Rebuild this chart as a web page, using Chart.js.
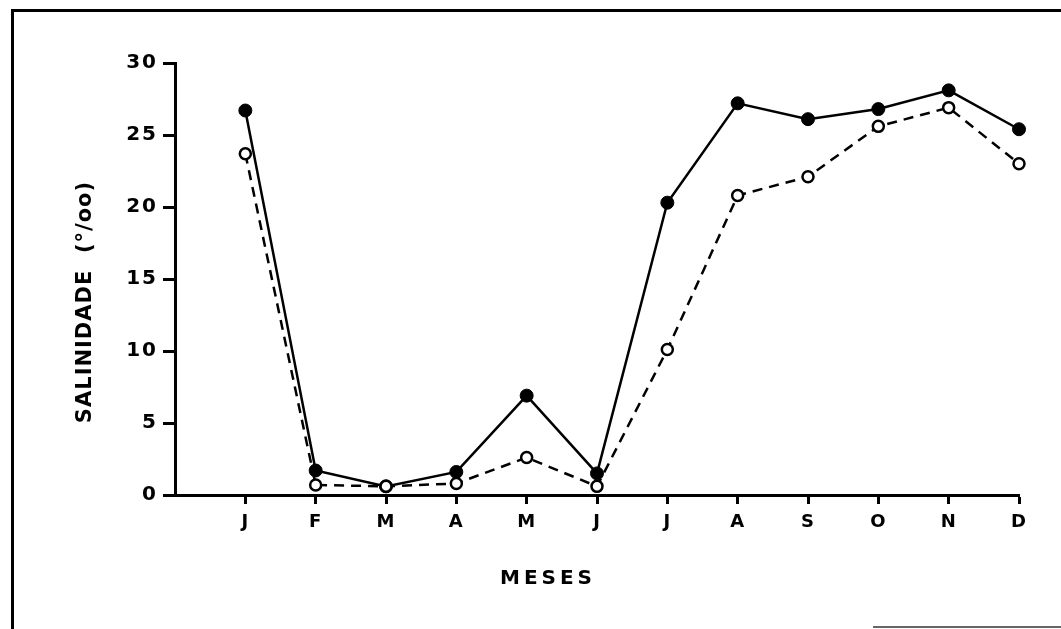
<!DOCTYPE html>
<html>
<head>
<meta charset="utf-8">
<script src="https://cdn.jsdelivr.net/npm/chart.js@4/dist/chart.umd.min.js"></script>
<style>
  html, body { margin: 0; padding: 0; background: #fff; }
  #wrap { position: relative; width: 1061px; height: 629px; overflow: hidden; background: #fff; }
  #wrap canvas { position: absolute; left: 0; top: 0; }
  .rule { position: absolute; background: #000; }
  #ruleLeft { left: 11px; top: 9px; width: 3px; height: 620px; }
  #ruleTop { left: 11px; top: 9px; width: 1050px; height: 3px; }
  #ruleBottom { left: 873px; top: 626px; width: 188px; height: 2px; background: #666; }
</style>
</head>
<body>
<div id="wrap">
  <canvas id="chart" width="1061" height="629"></canvas>
  <div class="rule" id="ruleLeft"></div>
  <div class="rule" id="ruleTop"></div>
  <div class="rule" id="ruleBottom"></div>
</div>
<script>
// Months (January .. December) and salinity (per mille) for the two stations
const months = ['J', 'F', 'M', 'A', 'M', 'J', 'J', 'A', 'S', 'O', 'N', 'D'];
const yTickValues = [0, 5, 10, 15, 20, 25, 30];
const filledSeries = [26.7, 1.7, 0.6, 1.6, 6.9, 1.5, 20.3, 27.2, 26.1, 26.8, 28.1, 25.4];
const openSeries   = [23.7, 0.7, 0.6, 0.8, 2.6, 0.6, 10.1, 20.8, 22.1, 25.6, 26.9, 23.0];
const xTitle = 'MESES';
const yTitle = 'SALINIDADE  (°/oo)';

// month n sits at x = n on a linear axis that starts one step before January
const toPoints = arr => arr.map((v, i) => ({ x: i + 1, y: v }));

// tracking (px) of the hand-lettered captions and labels, per axis
const tracking = {
  x: { title: '4px', labels: '1px' },
  y: { title: '1px', labels: '2px' }
};

const letterSpacingPlugin = {
  id: 'letterSpacing',
  beforeDraw(chart) {
    Object.values(chart.scales).forEach(s => {
      if (s._tracked) return;
      s._tracked = true;
      const t = tracking[s.id] || { title: '0px', labels: '0px' };
      const drawTitle = s.drawTitle, drawLabels = s.drawLabels;
      s.drawTitle = function () {
        const c = this.ctx; c.save(); c.letterSpacing = t.title;
        drawTitle.apply(this, arguments); c.restore();
      };
      s.drawLabels = function () {
        const c = this.ctx; c.save(); c.letterSpacing = t.labels;
        drawLabels.apply(this, arguments); c.restore();
      };
    });
  }
};

Chart.defaults.color = '#000';
Chart.defaults.font.family = '"DejaVu Sans", Verdana, sans-serif';

const EN = '\u2002';

new Chart(document.getElementById('chart'), {
  type: 'line',
  data: {
    datasets: [
      {
        data: toPoints(filledSeries),
        borderColor: '#000',
        borderWidth: 2.5,
        pointRadius: 6.5,
        pointBackgroundColor: '#000',
        pointBorderColor: '#000',
        pointBorderWidth: 1,
        tension: 0,
        clip: false,
        order: 2
      },
      {
        data: toPoints(openSeries),
        borderColor: '#000',
        borderWidth: 2.5,
        borderDash: [10, 7],
        pointRadius: 5.5,
        pointBackgroundColor: '#fff',
        pointBorderColor: '#000',
        pointBorderWidth: 2.5,
        tension: 0,
        clip: false,
        order: 1
      }
    ]
  },
  options: {
    responsive: false,
    devicePixelRatio: 1,
    animation: false,
    layout: { padding: { left: 0, right: 42, top: 63, bottom: 0 } },
    plugins: { legend: { display: false }, tooltip: { enabled: false } },
    scales: {
      x: {
        type: 'linear',
        position: 'bottom',
        min: 0,
        max: 12,
        border: { display: true, color: '#000', width: 3 },
        grid: { drawOnChartArea: false, drawTicks: true, tickLength: 9, tickWidth: 3, tickColor: '#000' },
        afterBuildTicks: s => { s.ticks = months.map((m, i) => ({ value: i + 1 })); },
        ticks: {
          autoSkip: false,
          maxRotation: 0,
          padding: 8,
          font: { size: 18, weight: 'bold' },
          callback: v => months[v - 1] || ''
        },
        title: {
          display: true,
          text: xTitle + EN.repeat(7),
          font: { size: 20, weight: 'bold' },
          padding: { top: 0, bottom: 38 }
        },
        afterFit: s => { s.height = 134; }
      },
      y: {
        min: 0,
        max: 30,
        border: { display: true, color: '#000', width: 3 },
        grid: { drawOnChartArea: false, drawTicks: true, tickLength: 12, tickWidth: 3, tickColor: '#000' },
        afterBuildTicks: s => { s.ticks = yTickValues.map(v => ({ value: v })); },
        ticks: {
          padding: 5,
          font: { size: 20, weight: 'bold' }
        },
        title: {
          display: true,
          text: yTitle + EN.repeat(4),
          font: { size: 21, weight: 'bold' },
          padding: { top: 73, bottom: 0 }
        },
        afterFit: s => { s.width = 175; }
      }
    }
  },
  plugins: [letterSpacingPlugin]
});
</script>
</body>
</html>
